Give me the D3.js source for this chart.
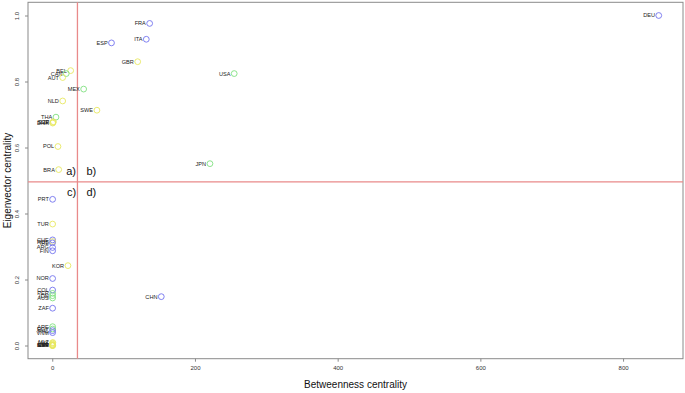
<!DOCTYPE html>
<html>
<head>
<meta charset="utf-8">
<script src="https://cdn.jsdelivr.net/npm/d3@7"></script>
<style>
  body { margin: 0; background: #fff; }
  text { font-family: "Liberation Sans", Arial, sans-serif; }
</style>
</head>
<body>
<div id="chart"></div>
<script>
// countries: betweenness (x), eigenvector (y), community
var codes = ["DEU","FRA","ITA","ESP","GBR","BEL","CAN","AUT","USA","MEX","NLD","SWE","THA",
  "CZE","SGP","DNK","POL","BRA","JPN",
  "PRT","TUR","CHE","RUS","IRL","ARG","FIN","KOR","NOR",
  "COL","PER","IDN","AUS","CHN","ZAF",
  "ARE","EGY","PHL","VNM",
  "MLT","LUX","ISL","CYP","EST","LVA","SVN","HRV"];
var betweenness = [850,136.5,131.8,83,119.7,25.8,19.6,14.6,255,44,14.6,62.6,5.2,
  1.6,1.0,0.6,8,9,221,
  0.5,0.5,0.5,0.6,0.3,0.5,0.5,22,0.5,
  0.5,0.6,0.4,0.5,152.8,0.5,
  0.5,0.6,0.4,0.5,
  0.8,0.4,0.2,0.6,0.3,0.7,0.1,0.5];
var eigenvector = [1.0,0.976,0.928,0.917,0.860,0.833,0.824,0.812,0.824,0.777,0.741,0.713,0.692,
  0.678,0.676,0.674,0.603,0.533,0.551,
  0.443,0.368,0.320,0.315,0.311,0.297,0.287,0.242,0.203,
  0.168,0.158,0.151,0.144,0.148,0.113,
  0.057,0.050,0.045,0.039,
  0.009,0.007,0.004,0.002,0.001,0.0,0.0,0.0];
var community = ["b","b","b","b","y","y","g","y","g","g","y","y","g",
  "y","y","y","y","y","g",
  "b","y","b","y","b","b","b","y","b",
  "b","g","g","g","b","b",
  "g","g","b","b",
  "y","y","y","y","y","y","y","y"];

var xTicks = [0, 200, 400, 600, 800];
var yTicks = [0.0, 0.2, 0.4, 0.6, 0.8, 1.0];
var meanBetweenness = 35.3;
var meanEigenvector = 0.496;
var quadrants = [
  {label: "a)", x: 19.5, y: 0.517},
  {label: "b)", x: 48, y: 0.517},
  {label: "c)", x: 20.5, y: 0.452},
  {label: "d)", x: 48, y: 0.452}
];

var colors = {b: "#7373ee", g: "#80e080", y: "#e8e860"};

var width = 685, height = 393;
var svg = d3.select("#chart").append("svg")
    .attr("width", width)
    .attr("height", height);

var x = d3.scaleLinear().domain([-34, 884]).range([28, 683]);
var y = d3.scaleLinear().domain([-0.04, 1.04]).range([358.7, 2.3]);

// box
svg.append("rect")
    .attr("x", x.range()[0]).attr("y", y.range()[1])
    .attr("width", x.range()[1] - x.range()[0])
    .attr("height", y.range()[0] - y.range()[1])
    .attr("fill", "none")
    .attr("stroke", "#8a8a8a")
    .attr("stroke-width", 1);

// x axis
var xAxis = d3.axisBottom(x).tickValues(xTicks).tickSize(3).tickFormat(d3.format("d"));
var gx = svg.append("g").attr("transform", "translate(0," + y.range()[0] + ")").call(xAxis);
gx.select(".domain").remove();
gx.selectAll("line").attr("stroke", "#8a8a8a");
gx.selectAll("text").attr("font-size", "6px").attr("fill", "#333").attr("dy", "0.9em");

// y axis
var yAxis = d3.axisLeft(y).tickValues(yTicks).tickSize(3).tickFormat(d3.format(".1f"));
var gy = svg.append("g").attr("transform", "translate(" + x.range()[0] + ",0)").call(yAxis);
gy.select(".domain").remove();
gy.selectAll("line").attr("stroke", "#8a8a8a");
gy.selectAll("text")
    .attr("font-size", "6px").attr("fill", "#333")
    .attr("x", 0).attr("dy", 0)
    .attr("text-anchor", "middle")
    .attr("transform", "translate(-9,0) rotate(-90)");

// axis titles
svg.append("text")
    .attr("x", (x.range()[0] + x.range()[1]) / 2)
    .attr("y", 388)
    .attr("text-anchor", "middle")
    .attr("font-size", "10px")
    .attr("fill", "#111")
    .text("Betweenness centrality");
svg.append("text")
    .attr("transform", "translate(11," + (y.range()[0] + y.range()[1]) / 2 + ") rotate(-90)")
    .attr("text-anchor", "middle")
    .attr("font-size", "10px")
    .attr("fill", "#111")
    .text("Eigenvector centrality");

// mean lines
svg.append("line")
    .attr("x1", x(meanBetweenness)).attr("x2", x(meanBetweenness))
    .attr("y1", y.range()[0]).attr("y2", y.range()[1])
    .attr("stroke", "#e98a8a").attr("stroke-width", 1.3);
svg.append("line")
    .attr("x1", x.range()[0]).attr("x2", x.range()[1])
    .attr("y1", y(meanEigenvector)).attr("y2", y(meanEigenvector))
    .attr("stroke", "#e98a8a").attr("stroke-width", 1.3);

// quadrant labels
svg.selectAll(".quad")
  .data(quadrants)
  .join("text")
    .attr("class", "quad")
    .attr("x", d => x(d.x))
    .attr("y", d => y(d.y))
    .attr("font-size", "11px")
    .attr("fill", "#111")
    .text(d => d.label);

var pts = codes.map((c, i) => ({code: c, bx: betweenness[i], ev: eigenvector[i], com: community[i]}));

// country labels (left of point)
svg.selectAll(".lab")
  .data(pts)
  .join("text")
    .attr("class", "lab")
    .attr("x", d => x(d.bx) - 3.8)
    .attr("y", d => y(d.ev))
    .attr("dy", "0.35em")
    .attr("text-anchor", "end")
    .attr("font-size", "5.6px")
    .attr("fill", "#222")
    .text(d => d.code);

svg.selectAll(".pt")
  .data(pts)
  .join("circle")
    .attr("class", "pt")
    .attr("cx", d => x(d.bx))
    .attr("cy", d => y(d.ev))
    .attr("r", 2.9)
    .attr("fill", "none")
    .attr("stroke", d => colors[d.com])
    .attr("stroke-width", 0.9);
</script>
</body>
</html>
